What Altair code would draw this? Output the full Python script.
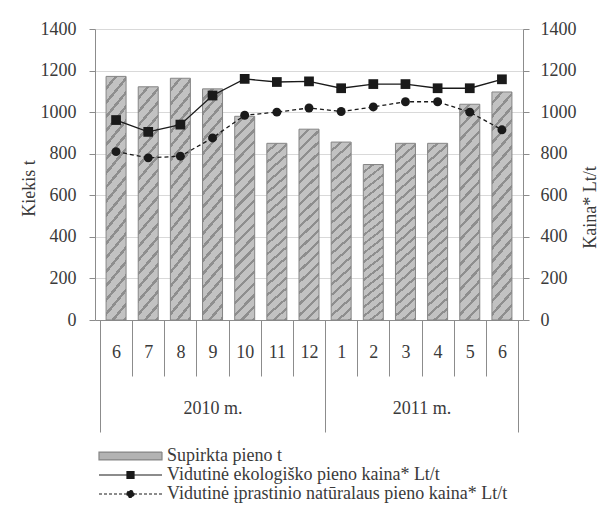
import json
import math
import altair as alt
import pandas as pd

# ---- data ----
months = ["6", "7", "8", "9", "10", "11", "12", "1", "2", "3", "4", "5", "6"]
years = ["2010 m.", "2011 m."]
months_per_year = [7, 6]
supirkta = [1172, 1122, 1163, 1112, 980, 850, 918, 856, 748, 850, 850, 1038, 1097]
eko_kaina = [962, 905, 940, 1080, 1160, 1145, 1148, 1115, 1135, 1135, 1115, 1115, 1158]
iprastinio_kaina = [810, 780, 788, 876, 985, 1000, 1020, 1003, 1025, 1050, 1050, 1000, 915]
series_names = [
    "Supirkta pieno t",
    "Vidutinė ekologiško pieno kaina* Lt/t",
    "Vidutinė įprastinio natūralaus pieno kaina* Lt/t",
]
y_ticks = [0, 200, 400, 600, 800, 1000, 1200, 1400]

FONT = "Liberation Serif"
FS = 18
TEXT = "#3a3a3a"
AXIS = "#8c8c8c"
BAR_FILL = "#b3b3b3"
BAR_LIGHT = "#c2c2c2"
BAR_DARK = "#8e8e8e"
BAR_STROKE = "#858585"
LINE = "#1a1a1a"

# diagonal hatch as a striped gradient (style only)
BAR_W, H_REF, PERIOD = 20.0, 200.0, 8.0
k = (1 / H_REF + 1 / BAR_W) / (1 / H_REF ** 2 + 1 / BAR_W ** 2)
n_stripes = int(round((BAR_W + H_REF) / math.sqrt(2) / PERIOD))
stops = []
for i in range(n_stripes):
    a, b, c = i / n_stripes, (i + 0.72) / n_stripes, (i + 1) / n_stripes
    stops += [alt.GradientStop(offset=a, color=BAR_LIGHT), alt.GradientStop(offset=b, color=BAR_LIGHT),
              alt.GradientStop(offset=b, color=BAR_DARK), alt.GradientStop(offset=c, color=BAR_DARK)]
hatch = alt.LinearGradient(gradient="linear", x1=0, y1=0, x2=k / H_REF, y2=k / BAR_W, stops=stops)

n = len(months)
df = pd.DataFrame({
    "idx": list(range(n)),
    "month": months,
    "supirkta": supirkta,
    "eko": eko_kaina,
    "ipr": iprastinio_kaina,
})

bounds = [0]
for m in months_per_year:
    bounds.append(bounds[-1] + m)
year_centers = [(bounds[i] + bounds[i + 1]) / 2 for i in range(len(years))]
years_df = pd.DataFrame({"year": years, "center": year_centers})

xscale = alt.Scale(domain=[0, n], nice=False, zero=False)
yscale = alt.Scale(domain=[0, 1400], nice=False, zero=True)

base = alt.Chart(df).transform_calculate(xc="datum.idx + 0.5")

bars = base.mark_bar(size=BAR_W, fill=hatch, stroke=BAR_STROKE, strokeWidth=1).encode(
    x=alt.X("xc:Q", scale=xscale, axis=alt.Axis(
        orient="bottom", values=list(range(n + 1)), labels=False, ticks=True,
        tickSize=56, domain=True, grid=False, title=None)),
    y=alt.Y("supirkta:Q", scale=yscale, axis=alt.Axis(
        orient="left", values=y_ticks, format="d", title="Kiekis t", grid=True,
        gridColor="#d9d9d9", tickSize=6, labelPadding=13, titlePadding=2, titleY=159)),
)

eko = base.mark_line(color=LINE, strokeWidth=1.3, point=alt.OverlayMarkDef(
    shape="square", filled=True, size=95, color=LINE, opacity=1)).encode(
    x=alt.X("xc:Q", scale=xscale, axis=alt.Axis(
        orient="bottom", values=[i + 0.5 for i in range(n)],
        labelExpr=f"{json.dumps(months)}[floor(datum.value)]",
        ticks=False, tickSize=0, domain=False, grid=False, labelPadding=32,
        labelBaseline="middle", labelOverlap=False, title=None)),
    y=alt.Y("eko:Q", scale=yscale, axis=alt.Axis(
        orient="right", values=y_ticks, format="d", title="Kaina* Lt/t", grid=False,
        tickSize=6, labelPadding=11, titleAngle=270, titleBaseline="top",
        titleX=58, titleY=178)),
)

ipr = base.mark_line(color=LINE, strokeWidth=1.3, strokeDash=[4, 3], point=alt.OverlayMarkDef(
    shape="circle", filled=True, size=80, color=LINE, opacity=1)).encode(
    x=alt.X("xc:Q", scale=xscale, axis=alt.Axis(
        orient="bottom", values=bounds, labels=False, tickSize=112,
        domain=False, grid=False, title=None)),
    y=alt.Y("ipr:Q", scale=yscale, axis=None),
)

yr = alt.Chart(years_df).mark_point(opacity=0).encode(
    x=alt.X("center:Q", scale=xscale, axis=alt.Axis(
        orient="bottom", values=year_centers,
        labelExpr=f"{json.dumps(years)}[indexof({json.dumps(year_centers)}, datum.value)]",
        ticks=False, tickSize=0, domain=False, grid=False, labelPadding=88,
        labelBaseline="middle", labelOverlap=False, title=None)),
)

shape_paths = [
    "M-1,-0.44H6V0.44H-1Z",
    "M-1,0H6M2.11,-0.39H2.89V0.39H2.11Z",
    "M-1,0H6M2.11,0A0.39,0.39,0,1,1,2.89,0A0.39,0.39,0,1,1,2.11,0Z",
]
legend_def = alt.Legend(
    title=None, orient="none", legendX=3, legendY=417, direction="vertical",
    symbolSize=324, symbolStrokeWidth=1.2, symbolOpacity=1, labelOffset=49, labelLimit=600,
    rowPadding=0, padding=0, labelFont=FONT, labelFontSize=FS, labelColor=TEXT,
)
legend_df = pd.DataFrame({"series": series_names})
leg = alt.Chart(legend_df).transform_filter("false").mark_point(filled=True, opacity=1).encode(
    fill=alt.Fill("series:N", scale=alt.Scale(domain=series_names, range=[BAR_FILL, LINE, LINE]), legend=legend_def),
    stroke=alt.Stroke("series:N", scale=alt.Scale(domain=series_names, range=[BAR_STROKE, LINE, LINE]), legend=legend_def),
    shape=alt.Shape("series:N", scale=alt.Scale(domain=series_names, range=shape_paths), legend=legend_def),
    strokeDash=alt.StrokeDash("series:N", scale=alt.Scale(domain=series_names, range=[[1, 0], [1, 0], [3, 2]]), legend=legend_def),
)

chart = alt.layer(bars, eko, ipr, yr, leg).resolve_scale(
    y="independent"
).resolve_axis(
    x="independent", y="independent"
).properties(
    width=428, height=291,
    autosize=alt.AutoSizeParams(type="none"),
    padding={"left": 87, "top": 21, "right": 75, "bottom": 184},
    background="white",
).configure_view(stroke=None).configure_axis(
    labelFont=FONT, labelFontSize=FS, labelColor=TEXT,
    titleFont=FONT, titleFontSize=FS, titleFontWeight="normal", titleColor=TEXT,
    tickColor=AXIS, domainColor=AXIS, tickWidth=1, domainWidth=1,
)

chart.save("out.html", embed_options={"renderer": "svg", "actions": False})
